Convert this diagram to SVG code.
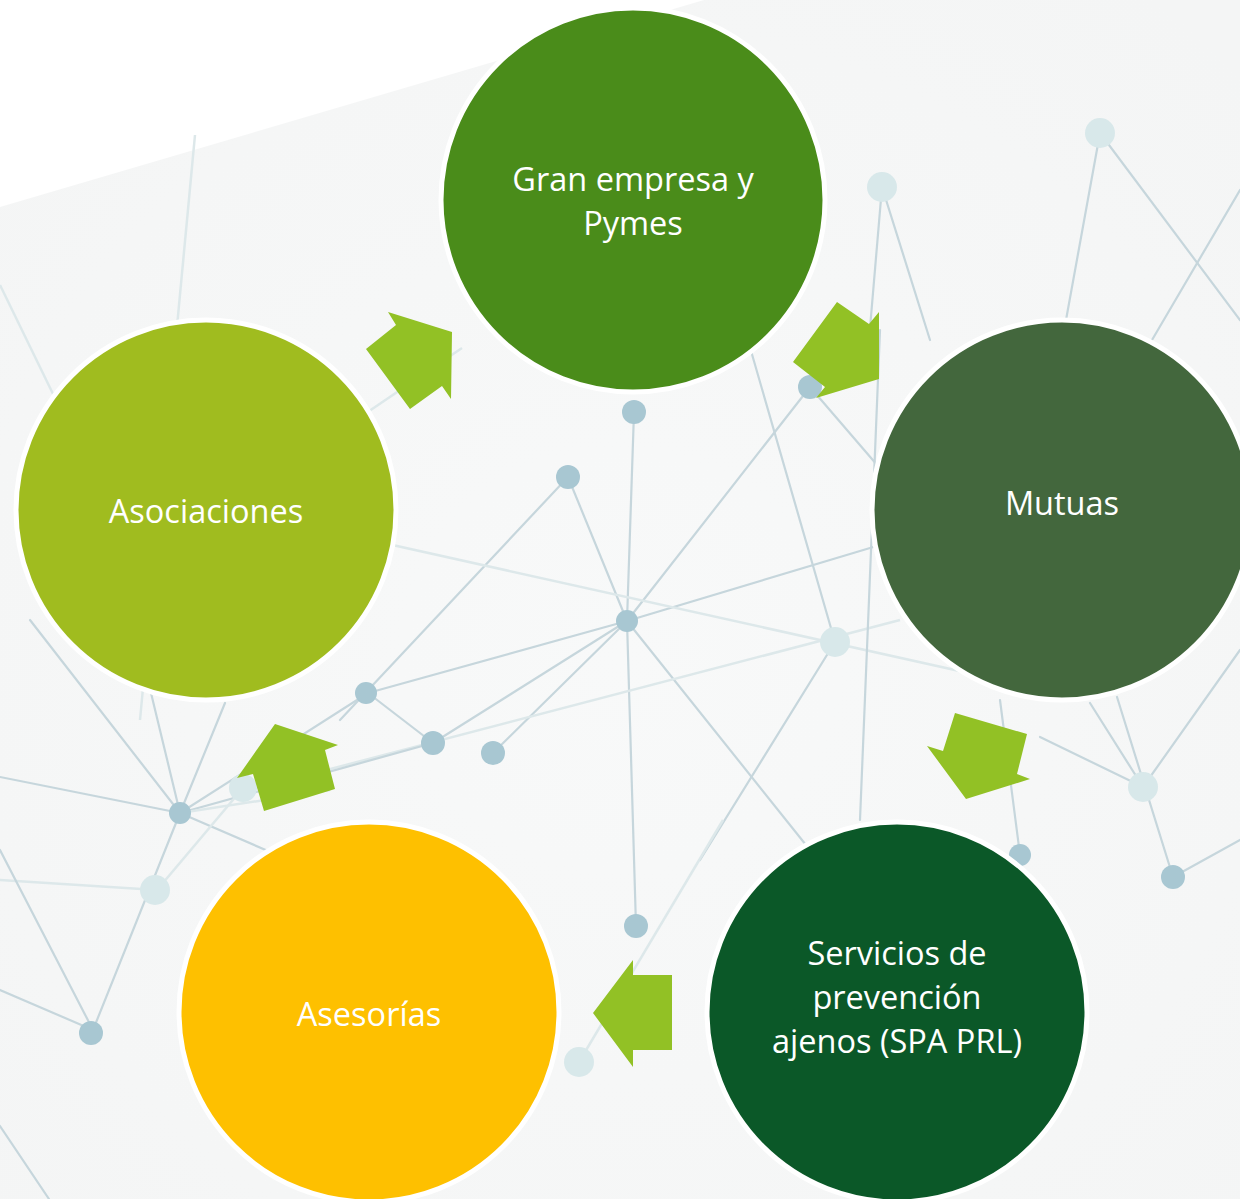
<svg xmlns="http://www.w3.org/2000/svg" width="1240" height="1199" viewBox="0 0 1240 1199">
<defs>
<style>
.bgl{stroke:#c6d6dc;stroke-width:2.2;fill:none;stroke-linecap:round}
.bgf{stroke:#dde8ea;stroke-width:2.5;fill:none}
.dot{fill:#a8c7d2}
.fdot{fill:#d8e8ea}
.node{stroke:#ffffff;stroke-width:5}
.lbl{font-family:"Open Sans","Noto Sans",sans-serif;font-size:32.5px;fill:#ffffff;text-anchor:middle}
.arr{fill:#92c125}
</style>
<radialGradient id="bgG" cx="0.5" cy="0.55" r="0.7">
<stop offset="0" stop-color="#f8f9f9"/>
<stop offset="1" stop-color="#f4f5f5"/>
</radialGradient>
</defs>
<rect width="1240" height="1199" fill="#ffffff"/>
<g id="background">
<polygon points="0,207 704,0 1240,0 1240,1199 0,1199" fill="url(#bgG)"/>
<g>
<line class="bgf" x1="195" y1="135" x2="140" y2="720"/>
<line class="bgf" x1="0" y1="285" x2="90" y2="470"/>
<line class="bgf" x1="300" y1="458" x2="462" y2="348"/>
<line class="bgl" x1="627" y1="621" x2="634" y2="412"/>
<line class="bgl" x1="627" y1="621" x2="568" y2="477"/>
<line class="bgl" x1="568" y1="477" x2="340" y2="720"/>
<line class="bgl" x1="627" y1="621" x2="810" y2="387"/>
<line class="bgl" x1="627" y1="621" x2="368" y2="693"/>
<line class="bgl" x1="627" y1="621" x2="433" y2="743"/>
<line class="bgl" x1="627" y1="621" x2="493" y2="753"/>
<line class="bgl" x1="627" y1="621" x2="636" y2="926"/>
<line class="bgl" x1="627" y1="621" x2="810" y2="850"/>
<line class="bgl" x1="627" y1="621" x2="880" y2="545"/>
<line class="bgf" x1="370" y1="540" x2="1000" y2="680"/>
<line class="bgf" x1="250" y1="790" x2="900" y2="620"/>
<line class="bgl" x1="835" y1="642" x2="700" y2="860"/>
<line class="bgl" x1="745" y1="330" x2="835" y2="642"/>
<line class="bgl" x1="880" y1="330" x2="860" y2="820"/>
<line class="bgl" x1="810" y1="387" x2="890" y2="480"/>
<line class="bgl" x1="368" y1="693" x2="433" y2="743"/>
<line class="bgl" x1="433" y1="743" x2="180" y2="813"/>
<line class="bgl" x1="180" y1="813" x2="0" y2="777"/>
<line class="bgl" x1="180" y1="813" x2="30" y2="620"/>
<line class="bgl" x1="180" y1="813" x2="151" y2="693"/>
<line class="bgl" x1="180" y1="813" x2="225" y2="703"/>
<line class="bgl" x1="180" y1="813" x2="368" y2="693"/>
<line class="bgl" x1="180" y1="813" x2="93" y2="1030"/>
<line class="bgl" x1="180" y1="813" x2="268" y2="851"/>
<line class="bgf" x1="180" y1="813" x2="330" y2="790"/>
<line class="bgf" x1="157" y1="890" x2="0" y2="880"/>
<line class="bgf" x1="157" y1="890" x2="243" y2="788"/>
<line class="bgl" x1="93" y1="1030" x2="0" y2="990"/>
<line class="bgl" x1="93" y1="1030" x2="0" y2="850"/>
<line class="bgl" x1="0" y1="1126" x2="49" y2="1199"/>
<line class="bgf" x1="579" y1="1062" x2="723" y2="820"/>
<line class="bgl" x1="882" y1="187" x2="869" y2="340"/>
<line class="bgl" x1="882" y1="187" x2="930" y2="340"/>
<line class="bgl" x1="1100" y1="133" x2="1066" y2="320"/>
<line class="bgl" x1="1100" y1="133" x2="1240" y2="320"/>
<line class="bgl" x1="1240" y1="190" x2="1152" y2="340"/>
<line class="bgl" x1="1117" y1="697" x2="1173" y2="877"/>
<line class="bgl" x1="1090" y1="703" x2="1143" y2="787"/>
<line class="bgl" x1="1040" y1="737" x2="1143" y2="787"/>
<line class="bgl" x1="1143" y1="787" x2="1240" y2="650"/>
<line class="bgl" x1="1173" y1="877" x2="1240" y2="840"/>
<line class="bgl" x1="1000" y1="700" x2="1020" y2="855"/>
</g>
<g>
<circle class="dot" cx="627" cy="621" r="11"/>
<circle class="dot" cx="568" cy="477" r="12"/>
<circle class="dot" cx="634" cy="412" r="12"/>
<circle class="dot" cx="810" cy="387" r="12"/>
<circle class="fdot" cx="835" cy="642" r="15"/>
<circle class="dot" cx="433" cy="743" r="12"/>
<circle class="dot" cx="493" cy="753" r="12"/>
<circle class="dot" cx="366" cy="693" r="11"/>
<circle class="dot" cx="180" cy="813" r="11"/>
<circle class="fdot" cx="155" cy="890" r="15"/>
<circle class="dot" cx="91" cy="1033" r="12"/>
<circle class="fdot" cx="243" cy="788" r="14"/>
<circle class="dot" cx="636" cy="926" r="12"/>
<circle class="fdot" cx="579" cy="1062" r="15"/>
<circle class="fdot" cx="882" cy="187" r="15"/>
<circle class="fdot" cx="1100" cy="133" r="15"/>
<circle class="fdot" cx="1143" cy="787" r="15"/>
<circle class="dot" cx="1173" cy="877" r="12"/>
<circle class="dot" cx="1020" cy="855" r="11"/>
</g>
</g>
<g id="connectors">
<polygon class="arr" points="366,349 396,325 388,312 452,332 451,399 442,386 410,409"/>
<polygon class="arr" points="837,302 869,324 879,312 879,379 816,398 825,387 793,362"/>
<polygon class="arr" points="955,713 1027,734 1017,774 1030,779 966,799 927,746 943,751"/>
<polygon class="arr" points="672,975 633,975 633,960 593,1013 633,1067 633,1050 672,1050"/>
<polygon class="arr" points="275,724 338,745 325,750 335,789 264,811 253,774 237,778"/>
</g>
<g id="node-gran-empresa">
<circle class="node" cx="633" cy="200" r="192" fill="#4a8c1a"/>
<text class="lbl" x="633" y="191">Gran empresa y</text>
<text class="lbl" x="633" y="235">Pymes</text>
</g>
<g id="node-mutuas">
<circle class="node" cx="1062" cy="510" r="190" fill="#43673d"/>
<text class="lbl" x="1062" y="515">Mutuas</text>
</g>
<g id="node-spa">
<circle class="node" cx="897" cy="1012" r="190" fill="#0b5828"/>
<text class="lbl" x="897" y="965">Servicios de</text>
<text class="lbl" x="897" y="1009">prevención</text>
<text class="lbl" x="897" y="1053">ajenos (SPA PRL)</text>
</g>
<g id="node-asesorias">
<circle class="node" cx="369" cy="1012" r="190" fill="#fec000"/>
<text class="lbl" x="369" y="1026">Asesorías</text>
</g>
<g id="node-asociaciones">
<circle class="node" cx="206" cy="510" r="190" fill="#a0bc1f"/>
<text class="lbl" x="206" y="523">Asociaciones</text>
</g>
</svg>
